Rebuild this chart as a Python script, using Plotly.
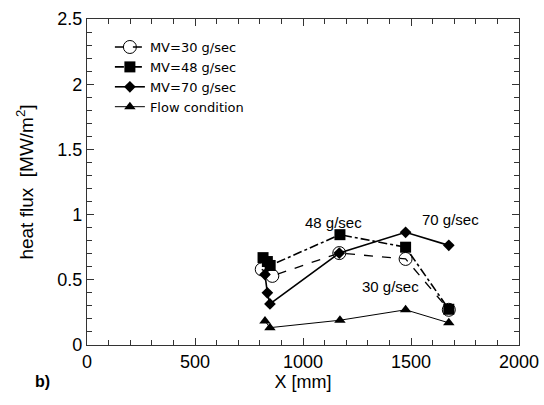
import plotly.graph_objects as go

x_mv30 = [809, 858, 1168, 1475, 1675]
y_mv30 = [0.58, 0.53, 0.705, 0.66, 0.27]

x_mv48 = [815, 835, 848, 1171, 1475, 1675]
y_mv48 = [0.67, 0.64, 0.61, 0.846, 0.75, 0.274]

x_mv70 = [824, 835, 847, 1168, 1475, 1675]
y_mv70 = [0.54, 0.40, 0.315, 0.705, 0.864, 0.764]

x_flow = [824, 847, 1171, 1475, 1675]
y_flow = [0.185, 0.133, 0.19, 0.27, 0.17]

labels = ["48 g/sec", "70 g/sec", "30 g/sec"]
label_x = [1139, 1683, 1405]
label_y = [0.94, 0.96, 0.446]

FONT = "Liberation Sans, Arial, sans-serif"

fig = go.Figure()
fig.add_trace(go.Scatter(x=x_mv30, y=y_mv30, mode="lines+markers", name="MV=30 g/sec",
                         line=dict(color="black", width=1.3, dash="dash"),
                         marker=dict(symbol="circle-open", size=13, color="black", line=dict(width=1))))
fig.add_trace(go.Scatter(x=x_mv48, y=y_mv48, mode="lines+markers", name="MV=48 g/sec",
                         line=dict(color="black", width=1.6, dash="dashdot"),
                         marker=dict(symbol="square", size=11, color="black")))
fig.add_trace(go.Scatter(x=x_mv70, y=y_mv70, mode="lines+markers", name="MV=70 g/sec",
                         line=dict(color="black", width=1.6),
                         marker=dict(symbol="diamond", size=9, color="black")))
fig.add_trace(go.Scatter(x=x_flow, y=y_flow, mode="lines+markers", name="Flow condition",
                         line=dict(color="black", width=1),
                         marker=dict(symbol="triangle-up", size=10, color="black")))

for t, xx, yy in zip(labels, label_x, label_y):
    fig.add_annotation(x=xx, y=yy, text=t, showarrow=False,
                       font=dict(size=15, color="black", family=FONT))

fig.add_annotation(x=-0.104, y=-0.113, xref="paper", yref="paper", text="<b>b)</b>",
                   showarrow=False, xanchor="center", yanchor="middle",
                   font=dict(size=16, color="black", family=FONT))

axis_common = dict(showgrid=False, zeroline=False, showline=True, linecolor="#333",
                   linewidth=1.2, mirror="ticks", ticks="inside", ticklen=7,
                   tickcolor="#333", automargin=False, ticklabeloverflow="allow",
                   tickfont=dict(size=18, color="black", family=FONT))

fig.update_xaxes(range=[0, 2000], tick0=0, dtick=500,
                 minor=dict(dtick=100, ticks="inside", ticklen=5, tickcolor="#333"),
                 title=dict(text="X [mm]", font=dict(size=18, color="black", family=FONT), standoff=0),
                 **axis_common)
fig.update_yaxes(range=[0, 2.5], tick0=0, dtick=0.5,
                 minor=dict(dtick=0.1, ticks="inside", ticklen=5, tickcolor="#333"),
                 title=dict(text="heat flux  [MW/m<sup>2</sup>]", font=dict(size=19, color="black", family=FONT), standoff=18),
                 **axis_common)

fig.update_layout(
    width=544, height=405,
    margin=dict(l=87, r=25, t=19, b=60),
    plot_bgcolor="white", paper_bgcolor="white",
    font=dict(family=FONT, color="black"),
    legend=dict(x=0.053, y=0.96, xanchor="left", yanchor="top", bgcolor="rgba(0,0,0,0)",
                font=dict(size=13, family="DejaVu Sans, Liberation Sans, sans-serif"),
                itemwidth=30, tracegroupgap=0),
)

fig.write_html("out.html", config={"displayModeBar": False},
               post_script="document.body.style.margin='0';document.body.style.overflow='hidden';")
